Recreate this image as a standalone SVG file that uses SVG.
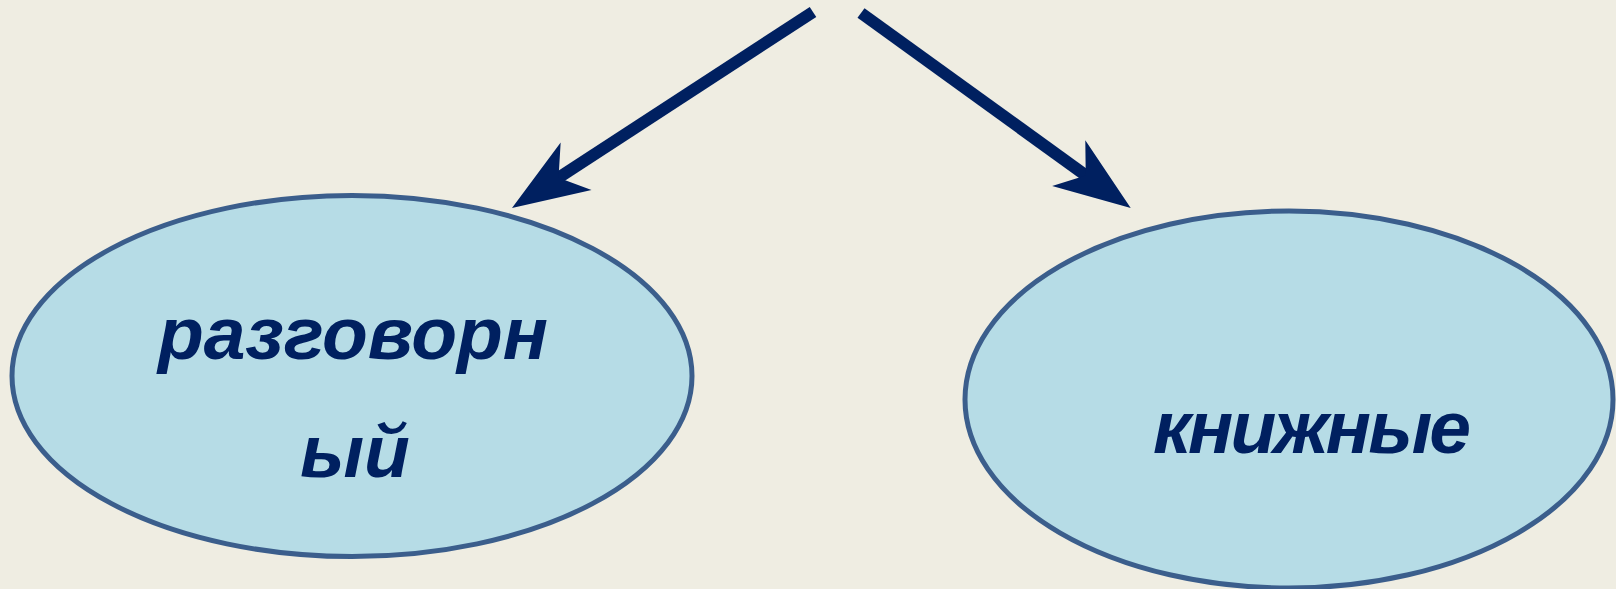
<svg xmlns="http://www.w3.org/2000/svg" width="1616" height="589" viewBox="0 0 1616 589">
<style>
.node ellipse{fill:#b6dce6;stroke:#3b5e8c;stroke-width:5}
.node text{font-family:"Liberation Sans",Arial,sans-serif;font-weight:bold;font-style:italic;font-size:75px;fill:#002060;text-anchor:middle}
.conn line{stroke:#002060;stroke-width:12;stroke-linecap:butt}
</style>
<defs>
<marker id="stealth" markerUnits="userSpaceOnUse" viewBox="-30 -30 82 60" refX="0" refY="0" markerWidth="82" markerHeight="60" orient="auto" overflow="visible">
<path d="M50,0 L-26.5,-28.3 L-5.5,0 L-26.5,28.3 Z" fill="#002060"/>
</marker>
</defs>
<rect width="1616" height="589" fill="#efede2"/>
<g id="connectors" class="conn">
<line x1="813" y1="12" x2="553.9" y2="180.7" marker-end="url(#stealth)"/>
<line x1="861" y1="13" x2="1090.2" y2="178.6" marker-end="url(#stealth)"/>
</g>
<g id="node-razgovornye" class="node">
<ellipse cx="352" cy="376" rx="340" ry="180.5"/>
<text x="353" y="359">разговорн</text>
<text x="355" y="477">ый</text>
</g>
<g id="node-knizhnye" class="node">
<ellipse cx="1289" cy="399.5" rx="324" ry="188.5"/>
<text x="1312" y="453" textLength="318" lengthAdjust="spacing">книжные</text>
</g>
</svg>
